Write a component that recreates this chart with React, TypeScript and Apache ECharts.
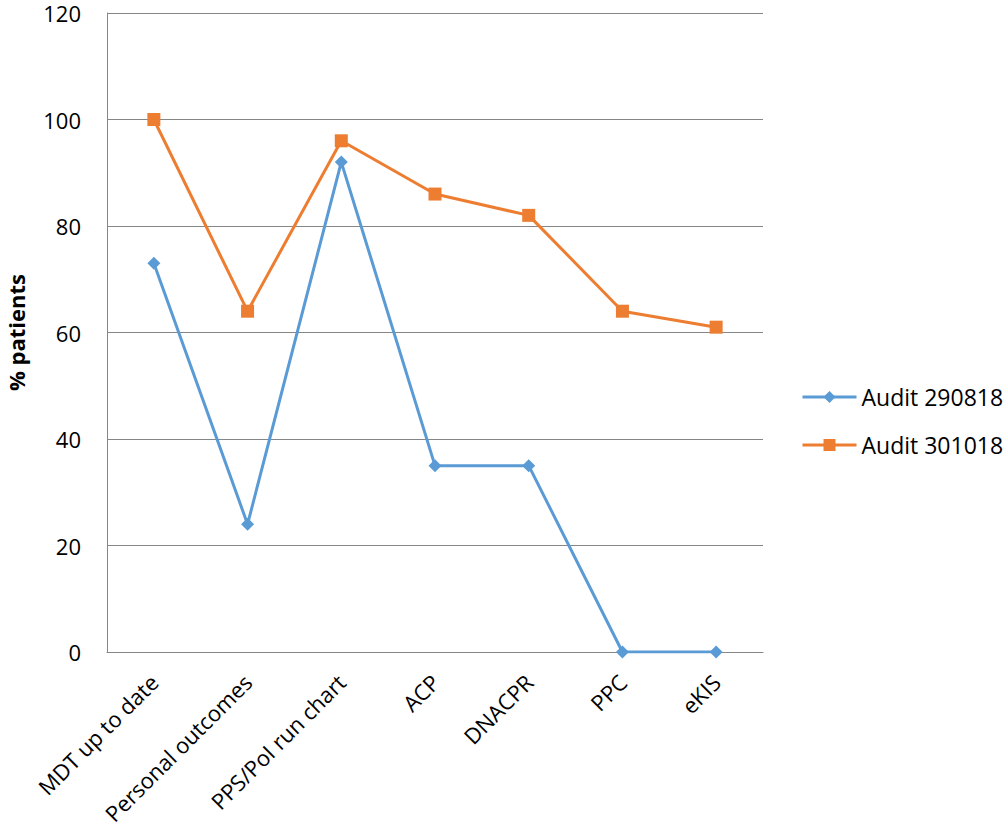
import React, { useEffect, useRef } from "react";
import * as echarts from "echarts";

const categories = [
  "MDT up to date",
  "Personal outcomes",
  "PPS/PoI run chart",
  "ACP",
  "DNACPR",
  "PPC",
  "eKIS",
];
const audit290818 = [73, 24, 92, 35, 35, 0, 0];
const audit301018 = [100, 64, 96, 86, 82, 64, 61];
const seriesNames = ["Audit 290818", "Audit 301018"];
const yTicks = { min: 0, max: 120, interval: 20 };

const FONT = "'Open Sans', 'Liberation Sans', sans-serif";

export default function App() {
  const ref = useRef<HTMLDivElement>(null);

  useEffect(() => {
    if (!ref.current) return;
    const chart = echarts.init(ref.current, null, { renderer: "svg" });
    chart.setOption({
      animation: false,
      backgroundColor: "#ffffff",
      textStyle: { fontFamily: FONT },
      grid: {
        left: 107,
        right: 244,
        top: 13,
        bottom: 186,
        containLabel: false,
        outerBoundsMode: "none",
      },
      legend: {
        orient: "vertical",
        left: 796,
        top: 380,
        itemWidth: 54,
        itemHeight: 15,
        itemGap: 24,
        lineStyle: { width: 3 },
        textStyle: { fontFamily: FONT, fontSize: 23, lineHeight: 24, color: "#000" },
        data: seriesNames,
      },
      xAxis: {
        type: "category",
        data: categories,
        boundaryGap: true,
        axisLine: { lineStyle: { color: "#868686", width: 1 } },
        axisTick: { show: false },
        axisLabel: {
          rotate: 45,
          interval: 0,
          margin: 26,
          color: "#000",
          fontSize: 22,
          fontFamily: FONT,
        },
      },
      yAxis: {
        type: "value",
        min: yTicks.min,
        max: yTicks.max,
        interval: yTicks.interval,
        name: "% patients",
        nameLocation: "middle",
        nameGap: 80,
        nameRotate: 90,
        nameTextStyle: { fontFamily: FONT, fontSize: 22, fontWeight: "bold", color: "#000" },
        axisLine: { show: true, lineStyle: { color: "#868686", width: 1 } },
        axisTick: { show: false },
        splitLine: { lineStyle: { color: "#868686", width: 1 } },
        axisLabel: { color: "#000", fontSize: 22, lineHeight: 20, fontFamily: FONT, margin: 26 },
      },
      series: [
        {
          name: seriesNames[0],
          type: "line",
          data: audit290818,
          symbol: "diamond",
          symbolSize: 13,
          lineStyle: { color: "#5B9BD5", width: 3 },
          itemStyle: { color: "#5B9BD5" },
        },
        {
          name: seriesNames[1],
          type: "line",
          data: audit301018,
          symbol: "rect",
          symbolSize: 13,
          lineStyle: { color: "#ED7D31", width: 3 },
          itemStyle: { color: "#ED7D31" },
        },
      ],
    });
    return () => chart.dispose();
  }, []);

  return (
    <div
      ref={ref}
      style={{ position: "fixed", left: 0, top: 0, width: 1007, height: 838 }}
    />
  );
}
